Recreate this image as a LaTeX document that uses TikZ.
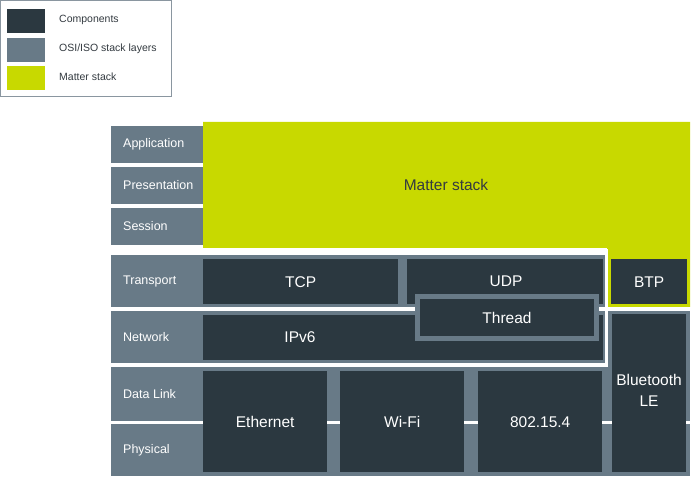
\documentclass[tikz,border=0pt]{standalone}
\usepackage{fontspec}
\setmainfont{Liberation Sans}
\definecolor{compdark}{HTML}{2B3840}
\definecolor{layergray}{HTML}{687A87}
\definecolor{mattergreen}{HTML}{C8D900}
\definecolor{legendline}{HTML}{8A96A0}
\definecolor{legendtext}{HTML}{333A40}
\tikzset{
  layer/.style={fill=layergray, inner sep=0pt, anchor=north west},
  layertext/.style={text=white, font=\fontsize{12.5}{14}\selectfont, anchor=west, inner sep=0pt},
  comp/.style={fill=compdark, text=white, inner sep=0pt, anchor=north west, font=\fontsize{15.5}{21}\selectfont, align=center},
  swatch/.style={inner sep=0pt, anchor=north west, minimum width=38pt, minimum height=24pt},
  legtext/.style={text=legendtext, font=\fontsize{10.5}{12}\selectfont, anchor=west, inner sep=0pt},
}
\begin{document}
\begin{tikzpicture}[x=1pt,y=-1pt]
\useasboundingbox (0,0) rectangle (691,478);
% layer rows (full width)
\node[layer, minimum width=579pt, minimum height=37pt] (rapp) at (111,126) {};
\node[layer, minimum width=579pt, minimum height=37pt] (rpres) at (111,167) {};
\node[layer, minimum width=579pt, minimum height=37pt] (rsess) at (111,208) {};
\node[layer, minimum width=579pt, minimum height=52pt] (rtrans) at (111,255) {};
\node[layer, minimum width=579pt, minimum height=52pt] (rnet) at (111,311) {};
\node[layer, minimum width=579pt, minimum height=54pt] (rdl) at (111,367) {};
\node[layer, minimum width=579pt, minimum height=52pt] (rphy) at (111,424) {};
\node[layer, minimum width=82pt, minimum height=110pt] (rcol) at (608,311) {};
\fill[white] (608,421) rectangle (690,424);
% layer labels
\node[layertext] (lapp) at (123,144.5) {Application};
\node[layertext] (lpres) at (123,185.5) {Presentation};
\node[layertext] (lsess) at (123,226.5) {Session};
\node[layertext] (ltrans) at (123,281) {Transport};
\node[layertext] (lnet) at (123,337) {Network};
\node[layertext] (ldl) at (123,394) {Data Link};
\node[layertext] (lphy) at (123,450) {Physical};
% matter stack
\fill[mattergreen] (203,122) -- (690,122) -- (690,307) -- (607,307) -- (607,248) -- (203,248) -- cycle;
\node[text=legendtext, font=\fontsize{15.5}{18}\selectfont, inner sep=0pt] (matter) at (446,185) {Matter stack};
% white outline around IP region
\draw[white, line width=3.2pt] (105,251) rectangle (606.4,365);
% components
\node[comp, minimum width=195pt, minimum height=45pt] (tcp) at (203,259) {TCP};
\node[comp, minimum width=196pt, minimum height=45pt] (udp) at (407,259) {};
\node at (506,281) [text=white, font=\fontsize{15.5}{18}\selectfont, inner sep=0pt] (udpt) {UDP};
\node[comp, minimum width=400pt, minimum height=45pt] (ipv6) at (203,315) {};
\node at (300,337.5) [text=white, font=\fontsize{15.5}{18}\selectfont, inner sep=0pt] (ipv6t) {IPv6};
\node[fill=compdark, draw=layergray, line width=5pt, minimum width=179pt, minimum height=42pt, inner sep=0pt, text=white, font=\fontsize{15.5}{18}\selectfont] (thread) at (507,317.5) {Thread};
\node[comp, minimum width=76pt, minimum height=45pt] (btp) at (611,259) {BTP};
\node[comp, minimum width=124pt, minimum height=101pt] (eth) at (203,371) {Ethernet};
\node[comp, minimum width=124pt, minimum height=101pt] (wifi) at (340,371) {Wi-Fi};
\node[comp, minimum width=124pt, minimum height=101pt] (ieee) at (478,371) {802.15.4};
\node[comp, minimum width=74pt, minimum height=158pt] (ble) at (612,314) {};
\node[text=white, font=\fontsize{15.5}{21}\selectfont, align=center, inner sep=0pt] (blet) at (649,390.5) {Bluetooth\\LE};
% legend
\draw[legendline, line width=1pt] (0.5,0.5) rectangle (171.5,97);
\node[swatch, fill=compdark] (sw1) at (7,9) {};
\node[swatch, fill=layergray] (sw2) at (7,38) {};
\node[swatch, fill=mattergreen] (sw3) at (7,66) {};
\node[legtext] (lt1) at (59,20) {Components};
\node[legtext] (lt2) at (59,48.5) {OSI/ISO stack layers};
\node[legtext] (lt3) at (59,77) {Matter stack};
\end{tikzpicture}
\end{document}
